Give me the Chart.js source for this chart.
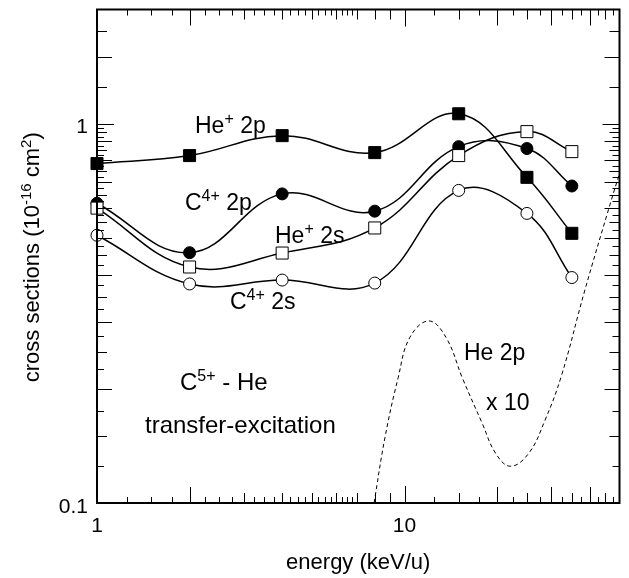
<!DOCTYPE html>
<html>
<head>
<meta charset="utf-8">
<script src="https://cdn.jsdelivr.net/npm/chart.js@4.4.1/dist/chart.umd.min.js"></script>
<style>
  html, body { margin: 0; padding: 0; background: #fff; }
  #wrap { width: 629px; height: 578px; position: relative; }
</style>
</head>
<body>
<div id="wrap"><canvas id="xs"></canvas></div>
<script>
// projectile energies (keV/u) and cross sections (1e-16 cm^2)
const energies = [1, 2, 4, 8, 15, 25, 35];
const hePlus2p = [0.785, 0.824, 0.930, 0.839, 1.062, 0.722, 0.514];
const hePlus2s = [0.599, 0.419, 0.456, 0.531, 0.824, 0.953, 0.844];
const c4Plus2p = [0.617, 0.457, 0.653, 0.588, 0.870, 0.860, 0.685];
const c4Plus2s = [0.508, 0.378, 0.387, 0.380, 0.667, 0.580, 0.393];

// target excitation He 2p, scaled by 10
const he2pEnergies = [7.96, 8.64, 9.54, 10.4, 12.0, 13.65, 15.44, 17.9, 19.8, 22.1, 25.3, 28.6, 32.4, 38.5, 46.9, 50];
const he2pX10 = [0.100, 0.149, 0.2145, 0.273, 0.302, 0.273, 0.213, 0.162, 0.135, 0.125, 0.135, 0.165, 0.217, 0.362, 0.624, 0.739];

const xTickValues = [1, 10];
const xTickLabels = ["1", "10"];
const yTickValues = [0.1, 1];
const yTickLabels = ["0.1", "1"];

const FONT = "'Liberation Sans', Arial, Helvetica, sans-serif";

function pts(xs, ys) {
  return xs.map((x, i) => ({ x, y: ys[i] }));
}

// minor tick values for the framed axes
function xMinor() {
  const out = [];
  for (let v = 1.25; v < 7.01; v += 0.25) out.push(+v.toFixed(2));
  out.push(8, 9);
  for (let v = 12.5; v < 50; v += 2.5) out.push(v);
  return out;
}
function yMinor() {
  const out = [1.25, 1.5, 1.75];
  for (let v = 0.125; v < 0.99; v += 0.025) out.push(+v.toFixed(3));
  return out;
}

function xTickLen(v) {
  if (v === 1 || v === 10) return 17;
  if ([2, 20, 30, 40].includes(v)) return 16;
  if (Number.isInteger(v) || v === 25 || v === 35) return 10;
  return 6;
}
function yTickLen(v) {
  if (v === 1) return 17;
  const k = Math.round(v * 1000);
  if (k % 100 === 0) return 15;
  if (k % 50 === 0) return 10;
  return 7;
}

// text with superscripts: parts = [[text, isSup], ...]
function richWidth(ctx, parts, size) {
  let w = 0;
  parts.forEach(([t, sup]) => {
    ctx.font = `${sup ? Math.round(size * 0.68) : size}px ${FONT}`;
    w += ctx.measureText(t).width;
  });
  return w;
}
function drawRich(ctx, parts, x, y, size) {
  let cx = x;
  parts.forEach(([t, sup]) => {
    const s = sup ? Math.round(size * 0.68) : size;
    ctx.font = `${s}px ${FONT}`;
    ctx.fillText(t, cx, sup ? y - size * 0.38 : y);
    cx += ctx.measureText(t).width;
  });
}

const notes = [
  { parts: [["He"], ["+", 1], [" 2p"]], x: 195, y: 133, size: 23 },
  { parts: [["C"], ["4+", 1], [" 2p"]], x: 185, y: 210, size: 23 },
  { parts: [["He"], ["+", 1], [" 2s"]], x: 275, y: 243, size: 23 },
  { parts: [["C"], ["4+", 1], [" 2s"]], x: 230, y: 309, size: 23 },
  { parts: [["He 2p"]], x: 464, y: 360, size: 23 },
  { parts: [["x 10"]], x: 486, y: 410, size: 23 },
  { parts: [["C"], ["5+", 1], [" - He"]], x: 180, y: 390, size: 24 },
  { parts: [["transfer-excitation"]], x: 145, y: 433, size: 24 },
];

const framePlugin = {
  id: "frame",
  afterDatasetsDraw(chart) {
    const { ctx, chartArea: a, scales } = chart;
    const xs = scales.x, ys = scales.y;
    ctx.save();
    ctx.strokeStyle = "#000";
    ctx.lineWidth = 1;
    ctx.beginPath();
    xMinor().concat(xTickValues).forEach((v) => {
      const px = Math.round(xs.getPixelForValue(v)) + 0.5;
      const len = xTickLen(v);
      ctx.moveTo(px, a.bottom); ctx.lineTo(px, a.bottom - len);
      ctx.moveTo(px, a.top); ctx.lineTo(px, a.top + len);
    });
    yMinor().concat(yTickValues).forEach((v) => {
      const py = Math.round(ys.getPixelForValue(v)) + 0.5;
      const len = yTickLen(v);
      ctx.moveTo(a.left, py); ctx.lineTo(a.left + len, py);
      ctx.moveTo(a.right, py); ctx.lineTo(a.right - len, py);
    });
    ctx.stroke();

    ctx.lineWidth = 2;
    ctx.strokeRect(a.left, a.top, a.right - a.left, a.bottom - a.top);

    // tick labels
    ctx.fillStyle = "#000";
    ctx.font = `21px ${FONT}`;
    ctx.textBaseline = "middle";
    ctx.textAlign = "center";
    xTickValues.forEach((v, i) => {
      ctx.fillText(xTickLabels[i], xs.getPixelForValue(v), a.bottom + 23);
    });
    ctx.textAlign = "right";
    yTickValues.forEach((v, i) => {
      ctx.fillText(yTickLabels[i], a.left - 9, ys.getPixelForValue(v) + 4);
    });

    // axis titles
    ctx.textBaseline = "alphabetic";
    ctx.textAlign = "left";
    const xt = [["energy (keV/u)"]];
    const xw = richWidth(ctx, xt, 22);
    drawRich(ctx, xt, (a.left + a.right) / 2 - xw / 2, a.bottom + 66, 22);

    const yt = [["cross sections (10"], ["-16", 1], [" cm"], ["2", 1], [")"]];
    const yw = richWidth(ctx, yt, 22);
    ctx.save();
    ctx.translate(39, (a.top + a.bottom) / 2 + 1);
    ctx.rotate(-Math.PI / 2);
    drawRich(ctx, yt, -yw / 2, 0, 22);
    ctx.restore();

    // curve labels
    notes.forEach((n) => drawRich(ctx, n.parts, n.x, n.y, n.size));
    ctx.restore();
  },
};

const curve = (label, data, style, fill, radius) => ({
  label,
  data: pts(energies, data),
  borderColor: "#000",
  borderWidth: 1.5,
  tension: 0.4,
  pointStyle: style,
  pointRadius: radius,
  pointHoverRadius: radius,
  pointBackgroundColor: fill,
  pointBorderColor: "#000",
  pointBorderWidth: 1,
  clip: false,
});

new Chart(document.getElementById("xs"), {
  type: "line",
  data: {
    datasets: [
      curve("He+ 2p", hePlus2p, "rect", "#000", 8.5),
      curve("He+ 2s", hePlus2s, "rect", "#fff", 8.5),
      curve("C4+ 2s", c4Plus2s, "circle", "#fff", 6),
      curve("C4+ 2p", c4Plus2p, "circle", "#000", 6),
      {
        label: "He 2p x 10",
        data: pts(he2pEnergies, he2pX10),
        borderColor: "#000",
        borderWidth: 1,
        borderDash: [4, 3],
        tension: 0.4,
        pointRadius: 0,
      },
    ],
  },
  options: {
    responsive: true,
    maintainAspectRatio: false,
    animation: false,
    events: [],
    layout: { padding: { left: 97, right: 4, top: 7, bottom: 75 } },
    scales: {
      x: { type: "logarithmic", min: 1, max: 50, display: false },
      y: { type: "logarithmic", min: 0.1, max: 2, display: false },
    },
    plugins: { legend: { display: false }, tooltip: { enabled: false } },
  },
  plugins: [framePlugin],
});
</script>
</body>
</html>
